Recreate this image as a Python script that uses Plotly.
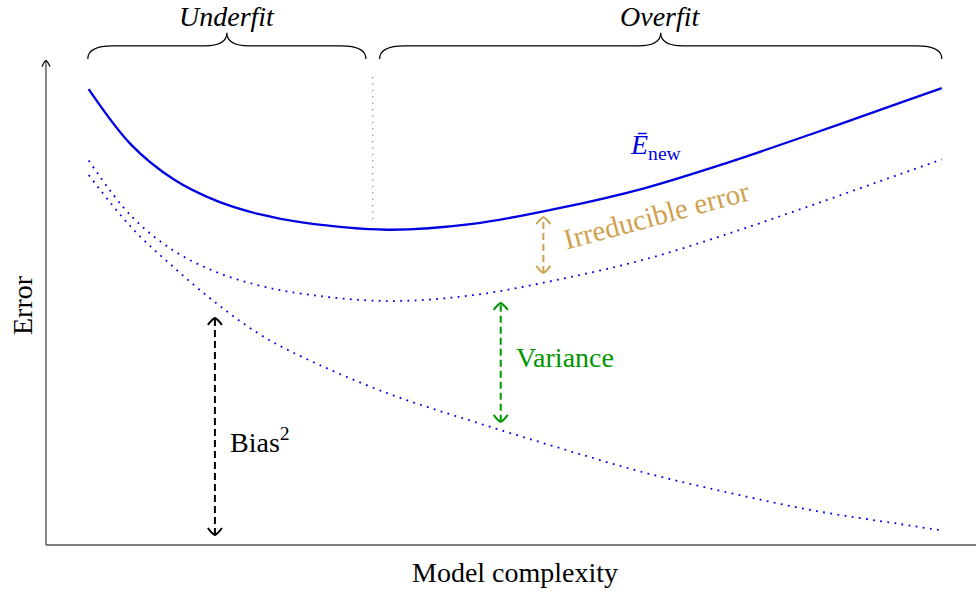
import plotly.graph_objects as go

# Model complexity sample points and the error components at each
complexity = [0.5, 1.0, 1.5, 2.0, 2.5, 3.0, 4.0, 5.0, 6.0, 7.0, 8.0, 9.0, 10.0, 10.5]
bias_sq = [7.63, 6.55, 5.72, 4.98, 4.35, 3.88, 3.13, 2.55, 2.01, 1.50, 1.08, 0.71, 0.435, 0.30]
variance = [0.30, 0.23, 0.345, 0.645, 1.00, 1.30, 1.90, 2.60, 3.46, 4.38, 5.34, 6.31, 7.205, 7.65]
irreducible = 1.47

reducible = [b + v for b, v in zip(bias_sq, variance)]
expected_new = [r + irreducible for r in reducible]

BLUE = "rgb(0,0,225)"
GREEN = "rgb(0,150,0)"
TAN = "rgb(208,161,80)"
AXIS = "rgb(85,85,85)"
FONT = "Liberation Serif, Times New Roman, serif"

fig = go.Figure()

fig.add_trace(go.Scatter(x=complexity, y=bias_sq, mode="lines",
                         line=dict(color=BLUE, width=1.8, dash="1.8px,5.4px", shape="spline"),
                         hoverinfo="skip"))
fig.add_trace(go.Scatter(x=complexity, y=reducible, mode="lines",
                         line=dict(color=BLUE, width=1.8, dash="1.8px,5.4px", shape="spline"),
                         hoverinfo="skip"))
fig.add_trace(go.Scatter(x=complexity, y=expected_new, mode="lines",
                         line=dict(color=BLUE, width=2.3, shape="spline"),
                         hoverinfo="skip"))

shapes = []


def chevron(x, y, up, color, w=7, h=7, lw=2.0):
    s = 1 if up else -1
    path = (f"M {-w},{-s*h} Q {-w*0.4},{-s*h*0.15} 0,0 "
            f"Q {w*0.4},{-s*h*0.15} {w},{-s*h}")
    return dict(type="path", xref="x", yref="y", xsizemode="pixel", ysizemode="pixel",
                xanchor=x, yanchor=y, path=path, line=dict(color=color, width=lw))


def double_arrow(x, y_lo, y_hi, color):
    shapes.append(dict(type="line", xref="x", yref="y", x0=x, x1=x, y0=y_lo, y1=y_hi,
                       line=dict(color=color, width=2, dash="7px,4px")))
    shapes.append(chevron(x, y_hi, True, color))
    shapes.append(chevron(x, y_lo, False, color))


def brace(x0, x1, y_end=10.02, y_flat=10.29, y_tip=10.56, r_end=0.29, r_tip=0.26):
    xc = (x0 + x1) / 2
    path = (f"M {x0},{y_end} Q {x0},{y_flat} {x0 + r_end},{y_flat} "
            f"L {xc - r_tip},{y_flat} Q {xc},{y_flat} {xc},{y_tip} "
            f"Q {xc},{y_flat} {xc + r_tip},{y_flat} "
            f"L {x1 - r_end},{y_flat} Q {x1},{y_flat} {x1},{y_end}")
    return dict(type="path", xref="x", yref="y", path=path,
                line=dict(color="black", width=1.2))


# axes
shapes.append(dict(type="line", xref="x", yref="y", x0=0, x1=0, y0=0, y1=9.99,
                   line=dict(color=AXIS, width=1.4)))
shapes.append(chevron(0, 9.99, True, "black", w=4, h=6, lw=1.3))
shapes.append(dict(type="line", xref="x", yref="y", x0=0, x1=11.2, y0=0, y1=0,
                   line=dict(color=AXIS, width=1.6)))

# optimum complexity marker
shapes.append(dict(type="line", xref="x", yref="y", x0=3.83, x1=3.83, y0=6.72, y1=9.69,
                   line=dict(color="rgb(120,120,120)", width=1.1, dash="1.2px,5.2px")))

# braces
shapes.append(brace(0.49, 3.75))
shapes.append(brace(3.91, 10.50))

# component arrows
double_arrow(1.98, 0.206, 4.68, "black")
double_arrow(5.33, 2.54, 4.99, GREEN)
double_arrow(5.83, 5.61, 6.76, TAN)

annotations = [
    dict(x=2.12, y=10.89, text="<i>Underfit</i>", font=dict(size=28, color="black")),
    dict(x=7.20, y=10.89, text="<i>Overfit</i>", font=dict(size=28, color="black")),
    dict(x=5.497, y=-0.557, text="Model complexity", font=dict(size=28, color="black")),
    dict(x=-0.281, y=4.948, text="Error", textangle=-90, font=dict(size=28, color="black")),
    dict(x=6.82, y=8.21, text="<i>Ē</i><sub>new</sub>", xanchor="left",
         font=dict(size=28, color=BLUE)),
    dict(x=7.16, y=6.80, text="Irreducible error", textangle=-15,
         font=dict(size=29, color=TAN)),
    dict(x=5.49, y=3.86, text="Variance", xanchor="left", font=dict(size=28, color=GREEN)),
    dict(x=2.13, y=2.165, text="Bias<sup>2</sup>", xanchor="left",
         font=dict(size=28, color="black")),
]
for a in annotations:
    a.update(xref="x", yref="y", showarrow=False)
    a.setdefault("xanchor", "center")
    a["yanchor"] = "middle"
    a["font"]["family"] = FONT

fig.update_layout(
    width=976, height=592,
    margin=dict(l=0, r=0, t=0, b=0),
    paper_bgcolor="white", plot_bgcolor="white",
    showlegend=False,
    xaxis=dict(range=[-0.5391, 10.9008], visible=False, fixedrange=True),
    yaxis=dict(range=[-0.9691, 11.2371], visible=False, fixedrange=True),
    shapes=shapes,
    annotations=annotations,
)

fig.write_html("out.html", config={"displayModeBar": False})
